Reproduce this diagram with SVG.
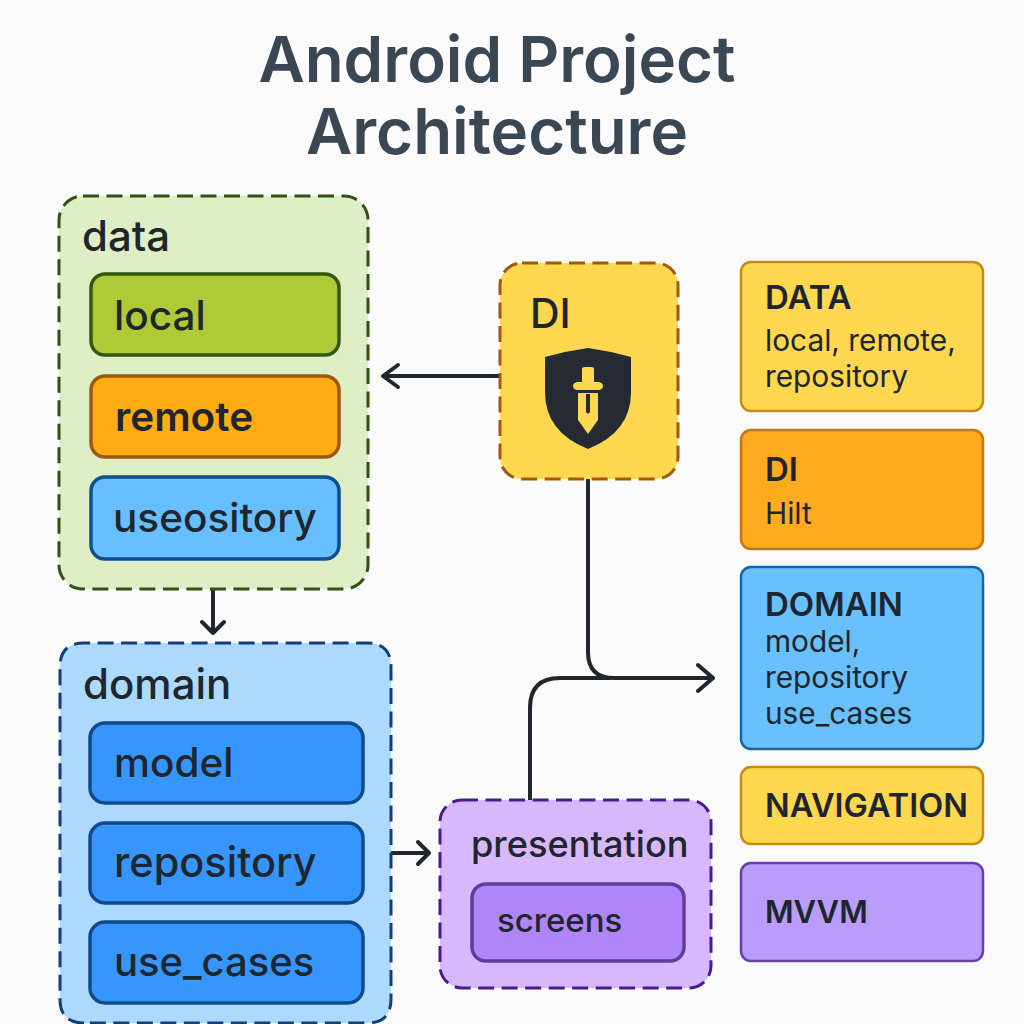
<svg xmlns="http://www.w3.org/2000/svg" width="1024" height="1024" viewBox="0 0 1024 1024">
<style>
text{font-family:Inter,"Noto Sans","Liberation Sans",sans-serif;fill:#20262e}
.t{font-size:63.6px;fill:#3a4754;font-weight:600;text-anchor:middle}
.h{font-size:42px;font-weight:500}
.i{font-size:40.5px;font-weight:500}
.r{font-size:33px;font-weight:600}
.s{font-size:29.8px}
.d{stroke-width:3;stroke-dasharray:16 7.5}
.b{stroke-width:3.5}
.c{fill:none;stroke:#20262e;stroke-width:4;stroke-linecap:round;stroke-linejoin:round}
</style>
<rect width="1024" height="1024" fill="#fbfbfb"/>
<g id="title"><text class="t" x="497" y="82">Android Project</text><text class="t" x="497" y="154">Architecture</text></g>
<g id="connectors">
<path class="c" d="M500 376H383M398 365L383 376L398 387"/>
<path class="c" d="M213 561V633M202 622L213 633L224 622"/>
<path class="c" d="M392 853H429M418 842L429 853L418 864"/>
<path class="c" d="M588 480V652Q588 678 614 678H713M698 665L713 678L698 691"/>
<path class="c" d="M530 800V708Q530 678 560 678H610"/>
</g>
<g id="data">
<rect class="d" x="59" y="196" width="309" height="393" rx="24" fill="#deeec5" stroke="#2f5310"/>
<text class="h" x="82" y="251">data</text>
</g>
<g id="local"><rect class="b" x="91" y="274" width="248" height="81" rx="14" fill="#aecb37" stroke="#33570f"/><text class="i" x="114" y="330">local</text></g>
<g id="remote"><rect class="b" x="91" y="376" width="248" height="81" rx="14" fill="#ffab12" stroke="#9a5a10"/><text class="i" x="115" y="431" style="font-weight:600">remote</text></g>
<g id="useository"><rect class="b" x="91" y="477" width="248" height="82" rx="14" fill="#68bfff" stroke="#0f4e90"/><text class="i" x="113" y="532">useository</text></g>
<g id="domain">
<path class="d" d="M84 1023Q60 1023 60 999V667Q60 643 84 643H367Q391 643 391 667V999Q391 1023 367 1023Z" fill="#aed9fe" stroke="#103f7c"/>
<text class="h" x="83" y="699">domain</text>
</g>
<g id="model"><rect class="b" x="90" y="723" width="273" height="80" rx="15" fill="#3696fb" stroke="#0f4a8c"/><text class="i" x="114" y="777">model</text></g>
<g id="repository"><rect class="b" x="90" y="823" width="273" height="80" rx="15" fill="#3696fb" stroke="#0f4a8c"/><text class="i" x="114" y="877" style="font-size:41.5px">repository</text></g>
<g id="use_cases"><rect class="b" x="90" y="922" width="273" height="81" rx="15" fill="#3696fb" stroke="#0f4a8c"/><text class="i" x="114" y="976" style="font-size:40px">use_cases</text></g>
<g id="di">
<rect class="d" x="500" y="263" width="178" height="216" rx="22" fill="#ffd84f" stroke="#a2590f"/>
<text x="530" y="328" style="font-size:41px;font-weight:500">DI</text>
<path d="M588 348Q566 351 545 357V392Q545 432 588 449Q631 432 631 392V357Q610 351 588 348Z" fill="#252a33"/>
<path fill="#ffd84f" fill-rule="evenodd" d="M582 369Q582 367 585 367H591Q594 367 594 369V382H599Q603 383 603 386Q603 389 599 390H577Q573 389 573 386Q573 383 577 382H582ZM578 393H598V420L588 434L578 420ZM586 394V412Q588 415 590 412V394Z"/>
</g>
<g id="legend-data"><rect x="741" y="262" width="242" height="149" rx="10" fill="#ffd84f" stroke="#c98a14" stroke-width="2.5"/><text class="r" x="765" y="309">DATA</text><text class="s" x="765" y="351">local, remote,</text><text class="s" x="765" y="387">repository</text></g>
<g id="legend-di"><rect x="741" y="430" width="242" height="119" rx="10" fill="#ffab1f" stroke="#c9760f" stroke-width="2.5"/><text class="r" x="765" y="481">DI</text><text class="s" x="765" y="524">Hilt</text></g>
<g id="legend-domain"><rect x="741" y="567" width="242" height="182" rx="10" fill="#68c0ff" stroke="#1565a8" stroke-width="2.5"/><text class="r" x="765" y="616">DOMAIN</text><text class="s" x="765" y="652">model,</text><text class="s" x="765" y="688">repository</text><text class="s" x="765" y="724">use_cases</text></g>
<g id="legend-navigation"><rect x="741" y="767" width="242" height="77" rx="10" fill="#ffd84f" stroke="#c98a14" stroke-width="2.5"/><text class="r" x="765" y="817" style="font-size:32.5px">NAVIGATION</text></g>
<g id="legend-mvvm"><rect x="741" y="863" width="242" height="98" rx="10" fill="#b99cfb" stroke="#6a3fa8" stroke-width="2.5"/><text class="r" x="765" y="923" style="font-size:31px">MVVM</text></g>
<g id="presentation">
<rect class="d" x="440" y="800" width="271" height="188" rx="22" fill="#d8b8fd" stroke="#4a1a94"/>
<text class="h" x="471" y="857" style="font-size:36.2px">presentation</text>
</g>
<g id="screens"><rect class="b" x="472" y="884" width="212" height="77" rx="14" fill="#b085f7" stroke="#5c3c9c"/><text class="s" x="497" y="932" style="font-size:33px;font-weight:500">screens</text></g>
</svg>
